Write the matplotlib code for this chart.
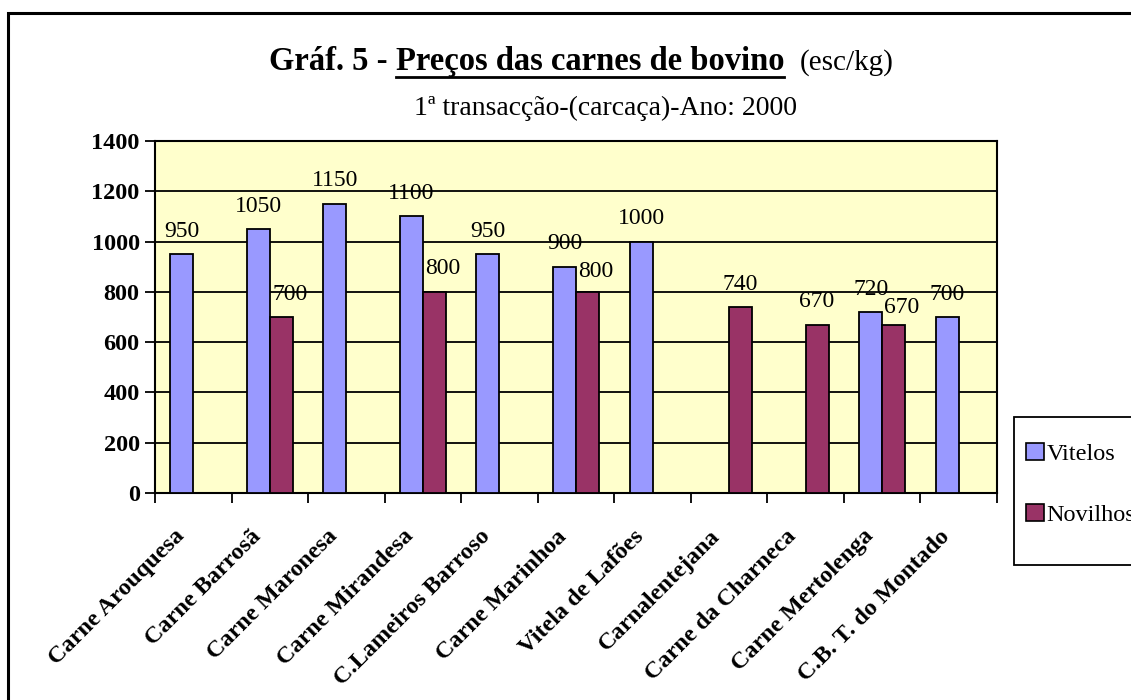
import numpy as np
import matplotlib.pyplot as plt
from matplotlib.patches import Rectangle, Patch
from matplotlib.lines import Line2D

plt.rcParams['font.family'] = ['Liberation Serif', 'DejaVu Serif']

'''chart data'''
categories = ['Carne Arouquesa', 'Carne Barrosã', 'Carne Maronesa', 'Carne Mirandesa',
              'C.Lameiros Barroso', 'Carne Marinhoa', 'Vitela de Lafões', 'Carnalentejana',
              'Carne da Charneca', 'Carne Mertolenga', 'C.B. T. do Montado']
vitelos = [950, 1050, 1150, 1100, 950, 900, 1000, np.nan, np.nan, 720, 700]
novilhos = [np.nan, 700, np.nan, 800, np.nan, 800, np.nan, 740, 670, 670, np.nan]
series_names = ['Vitelos', 'Novilhos']
y_ticks = [0, 200, 400, 600, 800, 1000, 1200, 1400]

W, H = 1131, 700
fig = plt.figure(figsize=(W / 100, H / 100), dpi=100)
ax = fig.add_axes([155 / W, 1 - 493 / H, (997 - 155) / W, (493 - 141) / H])
ax.set_facecolor('#FFFFCC')

x = np.arange(len(categories))
w = 0.30
colors = ['#9999FF', '#993366']
vit = np.array(vitelos, dtype=float)
nov = np.array(novilhos, dtype=float)
ax.bar(x - w / 2, vit, width=w, color=colors[0], edgecolor='black', linewidth=1.3, zorder=3)
ax.bar(x + w / 2, nov, width=w, color=colors[1], edgecolor='black', linewidth=1.3, zorder=3)

#value labels, novilhos nudged right/down when next to a vitelos bar (like excel does)
for i in range(len(categories)):
    if not np.isnan(vit[i]):
        ax.annotate('%d' % vit[i], (x[i] - w / 2, vit[i]), xytext=(0, 12.5),
                    textcoords='offset points', ha='center', va='baseline', fontsize=17, zorder=4)
    if not np.isnan(nov[i]):
        dx, dy = 0, 12.5
        if not np.isnan(vit[i]):
            dx = 6
            diff = abs(vit[i] - nov[i])
            if diff <= 60:
                dy = 8
            elif diff <= 100:
                dy = 11
        ax.annotate('%d' % nov[i], (x[i] + w / 2, nov[i]), xytext=(dx, dy),
                    textcoords='offset points', ha='center', va='baseline', fontsize=17, zorder=4)

ax.set_xlim(-0.5, len(categories) - 0.5)
ax.set_ylim(0, 1400)
ax.set_yticks(y_ticks)
ax.set_yticklabels([str(t) for t in y_ticks], fontsize=17.5, fontweight='bold')
ax.yaxis.grid(True, color='black', linewidth=1.3, zorder=1)
ax.set_axisbelow(True)

# label anchors sit a bit left of the category centre (ticks themselves are hidden)
ax.set_xticks(x - 0.16)
ax.set_xticklabels(categories, rotation=45, ha='right', va='center',
                   rotation_mode='anchor', fontsize=17.5, fontweight='bold')
ax.set_xticks(np.arange(-0.5, len(categories)), minor=True)
ax.tick_params(axis='x', which='major', length=0, pad=29)
ax.tick_params(axis='x', which='minor', length=7, width=1.3, direction='out')
ax.tick_params(axis='y', length=7, width=1.3, direction='out', pad=4)
for s in ax.spines.values():
    s.set_linewidth(1.5)
    s.set_color('black')

# figure frame
fig.patches.append(Rectangle((8 / W, -0.1), 1.2, 1 - 13 / H + 0.1, transform=fig.transFigure,
                             fill=False, edgecolor='black', linewidth=2.2))

# legend box + entries (box runs off the right edge as in the original)
fig.patches.append(Rectangle((1014 / W, 1 - 565 / H), 0.2, (565 - 417) / H,
                             transform=fig.transFigure, facecolor='white',
                             edgecolor='black', linewidth=1.3))
handles = [Patch(facecolor=c, edgecolor='black', linewidth=1.2) for c in colors]
fig.legend(handles, series_names, loc='upper left', bbox_to_anchor=(1026 / W, 1 - 443 / H),
           frameon=False, fontsize=17.5, handlelength=0.72, handleheight=0.72,
           handletextpad=0.12, labelspacing=1.6, borderaxespad=0, borderpad=0)

# title pieces, middle one underlined
base_y = 1 - 70 / H
t1 = fig.text(269 / W, base_y, 'Gráf. 5 -', fontsize=23.5, fontweight='bold', va='baseline')
fig.canvas.draw()
r = fig.canvas.get_renderer()
b1 = t1.get_window_extent(r)
t2 = fig.text((b1.x1 + 8) / W, base_y, 'Preços das carnes de bovino', fontsize=23.5,
              fontweight='bold', va='baseline')
b2 = t2.get_window_extent(r)
t3 = fig.text((b2.x1 + 16) / W, base_y, '(esc/kg)', fontsize=21, va='baseline')
fig.lines.append(Line2D([b2.x0 / W, b2.x1 / W], [base_y - 7 / H] * 2,
                        transform=fig.transFigure, color='black', linewidth=2))
fig.text(605 / W, 1 - 115 / H, '1ª transacção-(carcaça)-Ano: 2000', fontsize=20,
         ha='center', va='baseline')

fig.savefig('out.png', dpi=100)
